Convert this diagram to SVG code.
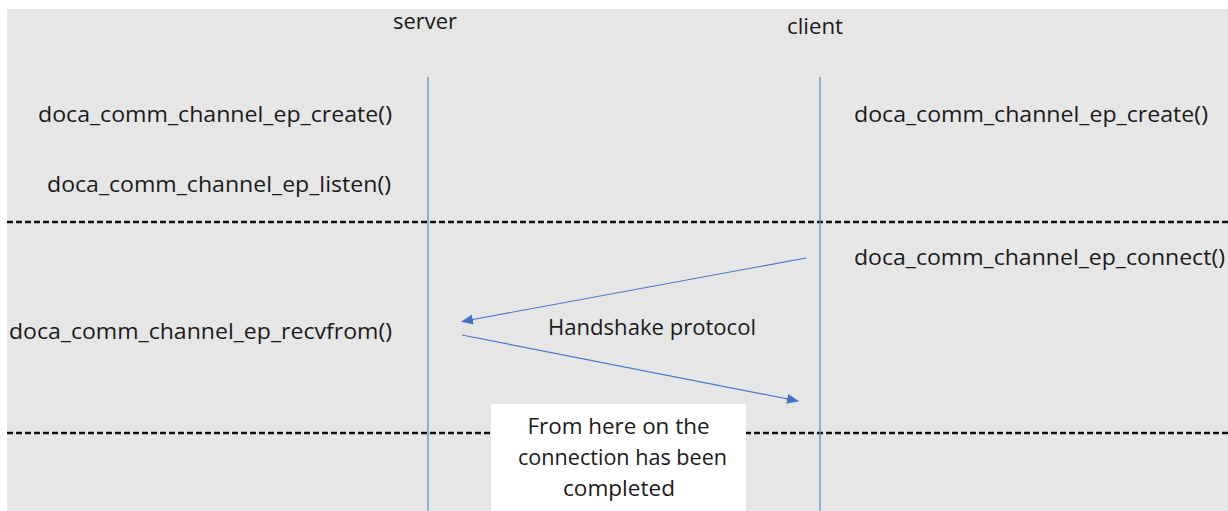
<svg xmlns="http://www.w3.org/2000/svg" width="1228" height="511" viewBox="0 0 1228 511">
  <style>
    .lbl { font-family: "Open Sans", "Noto Sans", "Liberation Sans", sans-serif; font-size: 21px; fill: #1a1a1a; }
    .big { font-size: 22px; }
    .life { stroke: #5b86d2; stroke-width: 1.2; fill: none; }
    .msg { stroke: #4a78c8; stroke-width: 1.2; fill: none; }
    .sep { stroke: #111111; stroke-width: 2.6; stroke-dasharray: 6 3; fill: none; }
  </style>
  <defs>
    <marker id="arrow" viewBox="0 0 12 10" refX="11" refY="5" markerWidth="12" markerHeight="10" markerUnits="userSpaceOnUse" orient="auto">
      <path d="M0,0 L12,5 L0,10 z" fill="#4472c4"/>
    </marker>
  </defs>

  <!-- canvas -->
  <rect x="0" y="0" width="1228" height="511" fill="#ffffff"/>
  <rect x="7" y="9" width="1221" height="502" fill="#e6e6e6"/>

  <!-- phase separators -->
  <g id="separators">
    <line class="sep" x1="7" y1="222" x2="1228" y2="222"/>
    <line class="sep" x1="7" y1="433" x2="1228" y2="433"/>
  </g>

  <!-- server lifeline -->
  <g id="server">
    <text class="lbl big" x="425" y="29" text-anchor="middle" textLength="64" lengthAdjust="spacingAndGlyphs">server</text>
    <line class="life" x1="428" y1="77" x2="428" y2="511"/>
    <text class="lbl" x="38" y="122" textLength="354" lengthAdjust="spacingAndGlyphs">doca_comm_channel_ep_create()</text>
    <text class="lbl" x="47" y="192" textLength="344" lengthAdjust="spacingAndGlyphs">doca_comm_channel_ep_listen()</text>
    <text class="lbl" x="9" y="339" textLength="383" lengthAdjust="spacingAndGlyphs">doca_comm_channel_ep_recvfrom()</text>
  </g>

  <!-- client lifeline -->
  <g id="client">
    <text class="lbl big" x="815" y="34" text-anchor="middle" textLength="56" lengthAdjust="spacingAndGlyphs">client</text>
    <line class="life" x1="820" y1="77" x2="820" y2="511"/>
    <text class="lbl" x="854" y="122" textLength="354" lengthAdjust="spacingAndGlyphs">doca_comm_channel_ep_create()</text>
    <text class="lbl" x="854" y="265" textLength="371" lengthAdjust="spacingAndGlyphs">doca_comm_channel_ep_connect()</text>
  </g>

  <!-- handshake messages -->
  <g id="connectors">
    <line class="msg" x1="806" y1="258" x2="462" y2="321.5" marker-end="url(#arrow)"/>
    <line class="msg" x1="462" y1="335" x2="798" y2="401" marker-end="url(#arrow)"/>
  </g>

  <g id="handshake-label">
    <text class="lbl" x="548" y="335" textLength="208" lengthAdjust="spacingAndGlyphs">Handshake protocol</text>
  </g>

  <!-- note -->
  <g id="note">
    <rect x="491" y="404" width="255" height="107" fill="#ffffff"/>
    <text class="lbl big" x="618.5" y="434" text-anchor="middle" textLength="182" lengthAdjust="spacingAndGlyphs">From here on the</text>
    <text class="lbl big" x="622.5" y="465" text-anchor="middle" textLength="209" lengthAdjust="spacingAndGlyphs">connection has been</text>
    <text class="lbl big" x="619" y="496" text-anchor="middle" textLength="112" lengthAdjust="spacingAndGlyphs">completed</text>
  </g>
</svg>
